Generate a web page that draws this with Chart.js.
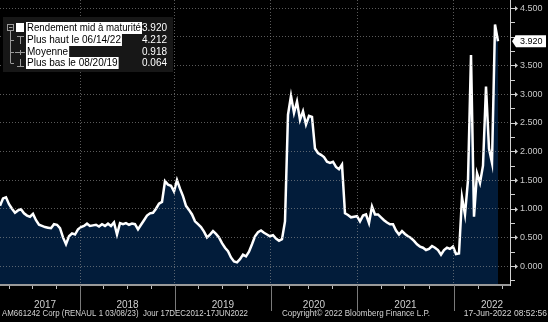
<!DOCTYPE html>
<html>
<head>
<meta charset="utf-8">
<script src="https://cdn.jsdelivr.net/npm/chart.js@4.4.0/dist/chart.umd.min.js"></script>
<style>
  html, body { margin: 0; padding: 0; background: #000; }
  canvas { display: block; }
</style>
</head>
<body>
<canvas id="myChart" width="548" height="322"></canvas>
<script>
// Rendement mid (en %) – une observation par pas, de début 2017 au 17/06/2022
const yields = [
  1.05, 1.18, 1.20, 1.08, 1.00, 0.93, 0.97, 0.99, 0.92, 0.88,
  0.86, 0.91, 0.80, 0.72, 0.70, 0.68, 0.67, 0.66, 0.73, 0.72,
  0.66, 0.50, 0.38, 0.52, 0.57, 0.55, 0.64, 0.68, 0.70, 0.74,
  0.70, 0.71, 0.72, 0.69, 0.73, 0.70, 0.74, 0.70, 0.76, 0.55,
  0.75, 0.73, 0.75, 0.72, 0.74, 0.73, 0.64, 0.72, 0.80, 0.88,
  0.92, 0.93, 1.00, 1.09, 1.12, 1.48, 1.42, 1.40, 1.30, 1.50,
  1.35, 1.22, 1.05, 0.98, 0.90, 0.78, 0.73, 0.68, 0.60, 0.50,
  0.55, 0.61, 0.56, 0.50, 0.40, 0.32, 0.26, 0.15, 0.08, 0.064,
  0.12, 0.20, 0.17, 0.25, 0.38, 0.52, 0.59, 0.62, 0.58, 0.55,
  0.52, 0.54, 0.48, 0.44, 0.47, 0.78, 2.64, 2.97, 2.67, 2.87,
  2.55, 2.70, 2.47, 2.62, 2.60, 2.05, 1.97, 1.94, 1.90, 1.82,
  1.80, 1.82, 1.73, 1.69, 1.77, 0.92, 0.89, 0.85, 0.86, 0.87,
  0.78, 0.88, 0.90, 0.75, 1.04, 0.90, 0.90, 0.85, 0.80, 0.76,
  0.73, 0.73, 0.62, 0.55, 0.61, 0.56, 0.52, 0.49, 0.44, 0.38,
  0.34, 0.32, 0.28, 0.30, 0.35, 0.32, 0.28, 0.20, 0.28, 0.32,
  0.30, 0.34, 0.21, 0.22, 1.20, 0.90, 1.50, 3.68, 0.86, 1.62,
  1.45, 1.75, 3.13, 2.05, 1.80, 4.212, 3.920
];

// Début de chaque année (en index d'observation), bords visibles compris
const yearLabels = ["2017", "2018", "2019", "2020", "2021", "2022"];
const yearBounds = [3.3, 26.7, 58.3, 90.3, 119, 151.3, 176.7];
const quarterTicks = [3, 10.7, 18.7, 34.3, 42.3, 50.3, 66, 74, 82.3,
  96.3, 102.7, 110.7, 127, 134.7, 143, 159.3, 167.3];
const yTicks = [0, 0.5, 1, 1.5, 2, 2.5, 3, 3.5, 4, 4.5];

const legendLabels = ["Rendement mid à maturité", "Plus haut le 06/14/22", "Moyenne", "Plus bas le 08/20/19"];
const legendValues = [3.920, 4.212, 0.918, 0.064];

const footerLeft = "AM661242 Corp (RENAUL 1 03/08/23)  Jour 17DEC2012-17JUN2022";
const footerMid = "Copyright\u00A9 2022 Bloomberg Finance L.P.";
const footerRight = "17-Jun-2022 08:52:56";

const lastValue = yields[yields.length - 1];
const FONT = "Liberation Sans, Arial, sans-serif";

const drawLine = (ctx, x1, y1, x2, y2) => {
  ctx.beginPath();
  ctx.moveTo(x1, y1);
  ctx.lineTo(x2, y2);
  ctx.stroke();
};

// Décor façon terminal : graduations, années, légende, étiquette de dernière valeur
const decor = {
  id: "decor",
  afterDraw(chart) {
    const { ctx, chartArea: a, scales: { x, y } } = chart;
    ctx.save();

    // séparateurs d'années sous l'axe
    ctx.strokeStyle = "#7a7a7a";
    ctx.lineWidth = 1;
    yearBounds.slice(1, -1).forEach((v) => {
      const px = Math.round(x.getPixelForValue(v)) + 0.5;
      drawLine(ctx, px, a.bottom, px, a.bottom + 26);
    });
    ctx.strokeStyle = "#bdbdbd";
    quarterTicks.forEach((v) => {
      const px = Math.round(x.getPixelForValue(v)) + 0.5;
      drawLine(ctx, px, a.bottom + 1, px, a.bottom + 4);
    });

    // années
    ctx.fillStyle = "#cfcfcf";
    ctx.font = "10px " + FONT;
    ctx.textAlign = "center";
    ctx.textBaseline = "middle";
    yearLabels.forEach((lab, i) => {
      const mid = (yearBounds[i] + yearBounds[i + 1]) / 2;
      ctx.fillText(lab, x.getPixelForValue(mid), a.bottom + 20);
    });

    // pied de page
    ctx.font = "8.5px " + FONT;
    ctx.fillStyle = "#d4d4d4";
    ctx.textAlign = "left";
    ctx.fillText(footerLeft, 2, 314, 246);
    ctx.fillText(footerMid, 282, 314, 148);
    ctx.textAlign = "right";
    ctx.fillText(footerRight, 547, 314, 86);

    // graduations de l'axe de droite
    ctx.strokeStyle = "#d0d0d0";
    ctx.fillStyle = "#d0d0d0";
    for (let k = -1; k <= 18; k++) {
      const v = k * 0.25;
      const py = Math.round(y.getPixelForValue(v)) + 0.5;
      drawLine(ctx, a.right, py, a.right + 5, py);
      if (k % 2 === 0) {
        ctx.beginPath();
        ctx.moveTo(a.right + 5, py - 2.5);
        ctx.lineTo(a.right + 8, py);
        ctx.lineTo(a.right + 5, py + 2.5);
        ctx.closePath();
        ctx.fill();
      }
    }

    // étiquette de la dernière valeur
    const ly = y.getPixelForValue(lastValue);
    ctx.fillStyle = "#ffffff";
    ctx.beginPath();
    ctx.moveTo(a.right + 2, ly);
    ctx.lineTo(a.right + 6, ly - 6);
    ctx.lineTo(a.right + 36, ly - 6);
    ctx.lineTo(a.right + 36, ly + 6);
    ctx.lineTo(a.right + 6, ly + 6);
    ctx.closePath();
    ctx.fill();
    ctx.fillStyle = "#000";
    ctx.font = "9px " + FONT;
    ctx.textAlign = "left";
    ctx.fillText(lastValue.toFixed(3), a.right + 10, ly + 0.5);

    // légende
    ctx.fillStyle = "#171717";
    ctx.fillRect(3, 17, 170, 55);
    const rows = [28, 40, 51.5, 63];
    ctx.font = "10px " + FONT;
    legendLabels.forEach((lab, i) => {
      const ry = rows[i];
      const w = Math.min(ctx.measureText(lab).width, 114);
      ctx.fillStyle = "#ffffff";
      ctx.fillRect(26, ry - 6, w + 2, 12);
      ctx.fillStyle = "#000";
      ctx.textAlign = "left";
      ctx.fillText(lab, 27, ry + 0.5, 114);
      ctx.fillStyle = "#ffffff";
      ctx.textAlign = "right";
      ctx.fillText(legendValues[i].toFixed(3), 167, ry + 0.5);
    });

    // symboles de la légende
    ctx.strokeStyle = "#9a9a9a";
    ctx.lineWidth = 1;
    ctx.strokeRect(7.5, 24.5, 6, 6);
    drawLine(ctx, 9, 27.5, 12.5, 27.5);
    ctx.fillStyle = "#ffffff";
    ctx.fillRect(16, 23, 8, 9);
    drawLine(ctx, 10.5, 31, 10.5, 63);
    [40, 51.5, 63].forEach((ry) => drawLine(ctx, 10.5, Math.round(ry) + 0.5, 14, Math.round(ry) + 0.5));
    drawLine(ctx, 20.5, 36, 20.5, 44);
    drawLine(ctx, 17, 36.5, 24, 36.5);
    drawLine(ctx, 15, 52.5, 25, 52.5);
    drawLine(ctx, 20.5, 50, 20.5, 55);
    drawLine(ctx, 20.5, 59, 20.5, 67);
    drawLine(ctx, 17, 66.5, 24, 66.5);

    ctx.restore();
  },
};

const ctx = document.getElementById("myChart").getContext("2d");

new Chart(ctx, {
  type: "line",
  data: {
    datasets: [
      {
        data: yields.map((v, i) => ({ x: i, y: v })),
        borderColor: "#ffffff",
        borderWidth: 2.5,
        backgroundColor: "#021c3a",
        fill: "start",
        pointRadius: 0,
        tension: 0,
      },
    ],
  },
  options: {
    responsive: false,
    animation: false,
    devicePixelRatio: 1,
    layout: { padding: 0 },
    plugins: { legend: { display: false }, tooltip: { enabled: false } },
    scales: {
      x: {
        type: "linear",
        min: 0,
        max: 170,
        afterBuildTicks: (s) => {
          s.ticks = yearBounds.slice(1, -1).map((v) => ({ value: v }));
        },
        afterFit: (s) => {
          s.height = 37;
          s.paddingLeft = 0;
          s.paddingRight = 0;
        },
        ticks: { display: false },
        grid: { color: "rgba(150,150,150,0.6)", lineWidth: 1, drawTicks: false, z: 1 },
        border: { display: true, color: "#9a9a9a", width: 2, dash: [1, 2], z: 1 },
      },
      y: {
        position: "right",
        min: -0.33,
        max: 4.64,
        afterBuildTicks: (s) => {
          s.ticks = yTicks.map((v) => ({ value: v }));
        },
        afterFit: (s) => {
          s.width = 38;
          s.paddingTop = 0;
          s.paddingBottom = 0;
        },
        ticks: {
          color: "#c8c8c8",
          padding: 10,
          font: { family: FONT, size: 9 },
          // la valeur courante masque l'étiquette voisine
          callback: (v) => (Math.abs(v - lastValue) < 0.2 ? "" : v.toFixed(3)),
        },
        grid: { color: "rgba(150,150,150,0.6)", lineWidth: 1, drawTicks: false, z: 1 },
        border: { display: true, color: "#d0d0d0", width: 1, dash: [1, 2], z: 1 },
      },
    },
  },
  plugins: [decor],
});
</script>
</body>
</html>
